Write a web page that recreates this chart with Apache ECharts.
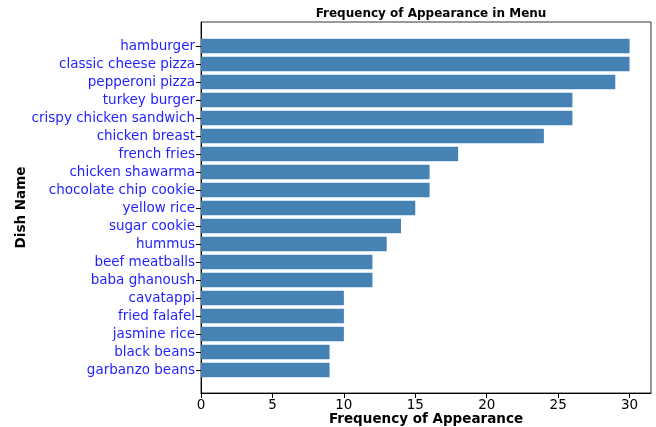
<!DOCTYPE html>
<html>
<head>
<meta charset="utf-8">
<script src="https://cdn.jsdelivr.net/npm/echarts@6/dist/echarts.min.js"></script>
<style>
  html, body { margin: 0; padding: 0; background: #fff; }
  #chart { width: 656px; height: 427px; }
</style>
</head>
<body>
<div id="chart"></div>
<script>
// dishes listed top to bottom
const dishes = [
  'hamburger', 'classic cheese pizza', 'pepperoni pizza', 'turkey burger',
  'crispy chicken sandwich', 'chicken breast', 'french fries', 'chicken shawarma',
  'chocolate chip cookie', 'yellow rice', 'sugar cookie', 'hummus',
  'beef meatballs', 'baba ghanoush', 'cavatappi', 'fried falafel',
  'jasmine rice', 'black beans', 'garbanzo beans'
];
const counts = [30, 30, 29, 26, 26, 24, 18, 16, 16, 15, 14, 13, 12, 12, 10, 10, 10, 9, 9];
const xTicks = [0, 5, 10, 15, 20, 25, 30];

const font = 'DejaVu Sans';
const chart = echarts.init(document.getElementById('chart'));

chart.setOption({
  animation: false,
  title: {
    text: 'Frequency of Appearance in Menu',
    left: 426, top: 3, textAlign: 'center',
    textStyle: { fontFamily: font, fontSize: 12, fontWeight: 'bold', color: '#000' }
  },
  grid: [
    // frame grid (matplotlib axes box with margins)
    { left: 201, right: 5, top: 22, bottom: 34, show: true, borderColor: '#333', borderWidth: 1,
      outerBoundsMode: 'none', containLabel: false },
    // bar grid (category bands only)
    { left: 201, right: 5, top: 37, bottom: 48, outerBoundsMode: 'none', containLabel: false }
  ],
  xAxis: [
    {
      gridIndex: 0, type: 'value', min: 0, max: 31.5, interval: 5,
      name: 'Frequency of Appearance', nameLocation: 'middle', nameGap: 19,
      nameMoveOverlap: false,
      nameTextStyle: { fontFamily: font, fontSize: 13.5, fontWeight: 'bold', color: '#000',
        verticalAlign: 'top' },
      axisLine: { show: true, lineStyle: { color: '#000' } },
      axisTick: { show: true, length: 5, lineStyle: { color: '#000' } },
      axisLabel: {
        fontFamily: font, fontSize: 13.5, color: '#000', margin: 5,
        showMaxLabel: false,
        formatter: v => xTicks.includes(v) ? String(v) : ''
      },
      splitLine: { show: false }
    },
    {
      gridIndex: 1, type: 'value', min: 0, max: 31.5, show: false
    }
  ],
  yAxis: [
    {
      gridIndex: 0, type: 'value', min: 0, max: 1,
      name: 'Dish Name', nameLocation: 'middle', nameGap: 173, nameRotate: 90,
      nameMoveOverlap: false,
      nameTextStyle: { fontFamily: font, fontSize: 13.5, fontWeight: 'bold', color: '#000' },
      axisLine: { show: true, lineStyle: { color: '#000' } },
      axisTick: { show: false }, axisLabel: { show: false }, splitLine: { show: false }
    },
    {
      gridIndex: 1, type: 'category', data: dishes, inverse: true,
      axisLine: { show: false },
      axisTick: { show: true, alignWithLabel: true, interval: 0, length: 5, lineStyle: { color: '#000' } },
      axisLabel: { fontFamily: font, fontSize: 13.5, color: '#1f1fff', margin: 6, interval: 0 },
      splitLine: { show: false }
    }
  ],
  series: [{
    type: 'bar',
    xAxisIndex: 1, yAxisIndex: 1,
    data: counts,
    barCategoryGap: '20%',
    itemStyle: { color: '#4682b4' }
  }]
});
</script>
</body>
</html>
